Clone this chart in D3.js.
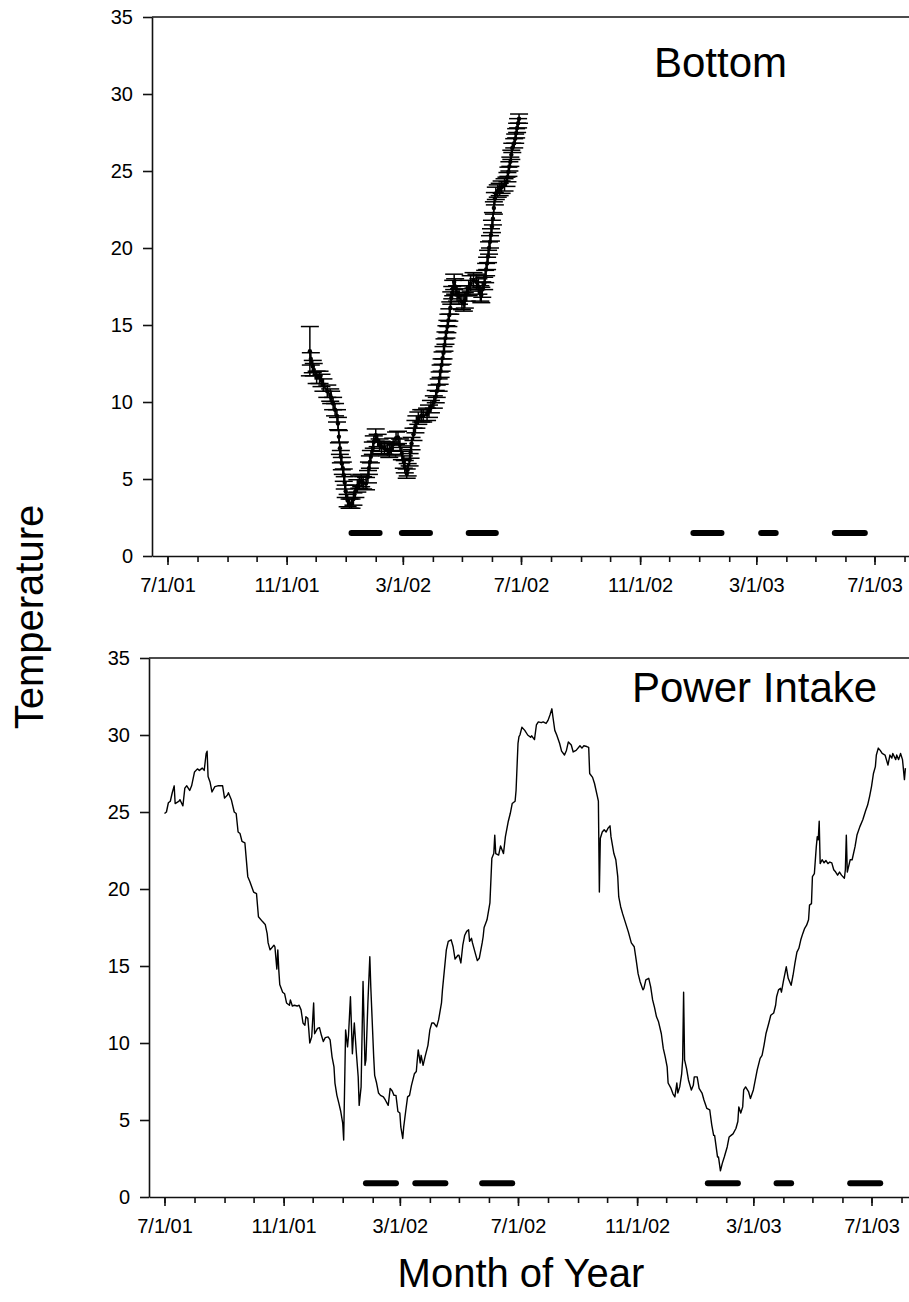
<!DOCTYPE html>
<html>
<head>
<meta charset="utf-8">
<script src="https://cdn.jsdelivr.net/npm/d3@7"></script>
<style>
  body { margin: 0; background: #fff; }
  svg { display: block; }
</style>
</head>
<body>
<svg id="chart" width="909" height="1302"></svg>
<script>
// ---- Bottom temperature: sample means and standard errors ----
const bottomDates = [
  "11/25/01","11/26/01","11/28/01","11/29/01","12/2/01","12/5/01","12/7/01","12/9/01","12/13/01","12/16/01",
  "12/17/01","12/19/01","12/21/01","12/23/01","12/24/01","12/25/01","12/26/01","12/27/01","12/28/01","12/29/01",
  "12/30/01","12/31/01","1/1/02","1/3/02","1/5/02","1/7/02","1/9/02","1/11/02","1/13/02","1/15/02",
  "1/17/02","1/19/02","1/22/02","1/24/02","1/25/02","1/26/02","1/27/02","1/29/02","1/30/02","2/1/02",
  "2/3/02","2/5/02","2/7/02","2/10/02","2/13/02","2/15/02","2/17/02","2/19/02","2/22/02","2/24/02",
  "2/26/02","2/28/02","3/2/02","3/3/02","3/5/02","3/6/02","3/8/02","3/9/02","3/10/02","3/12/02",
  "3/14/02","3/15/02","3/17/02","3/20/02","3/22/02","3/26/02","3/28/02","3/30/02","4/2/02","4/4/02",
  "4/5/02","4/7/02","4/8/02","4/9/02","4/10/02","4/11/02","4/12/02","4/13/02","4/14/02","4/15/02",
  "4/16/02","4/17/02","4/18/02","4/19/02","4/20/02","4/21/02","4/22/02","4/23/02","4/24/02","4/26/02",
  "4/28/02","5/1/02","5/3/02","5/4/02","5/6/02","5/8/02","5/10/02","5/13/02","5/16/02","5/18/02",
  "5/20/02","5/21/02","5/22/02","5/24/02","5/25/02","5/26/02","5/27/02","5/28/02","5/29/02","5/30/02",
  "5/31/02","6/1/02","6/2/02","6/3/02","6/4/02","6/5/02","6/7/02","6/9/02","6/11/02","6/14/02",
  "6/16/02","6/17/02","6/18/02","6/19/02","6/20/02","6/21/02","6/22/02","6/24/02","6/25/02","6/26/02",
  "6/27/02","6/28/02","6/29/02"
];
const bottomTemps = [
  13.3, 12.8, 12.3, 12.1, 11.6, 11.6, 11.4, 11.1, 10.7, 10.45,
  10.3, 9.9, 9.5, 9.1, 8.6, 7.75, 7.0, 6.45, 6.0, 5.7,
  5.25, 4.75, 4.2, 3.6, 3.4, 3.4, 3.7, 4.2, 4.55, 4.8,
  4.9, 4.75, 4.7, 5.15, 5.7, 6.1, 6.45, 7.0, 7.4, 7.85,
  7.5, 7.2, 7.05, 7.0, 6.9, 6.8, 7.0, 7.25, 7.65, 7.7,
  7.2, 6.65, 6.1, 5.8, 5.35, 5.6, 6.25, 6.75, 7.3, 7.9,
  8.4, 8.7, 8.95, 9.1, 9.1, 9.2, 9.4, 9.7, 10.0, 10.35,
  10.7, 11.1, 11.55, 12.0, 12.4, 12.85, 13.2, 13.7, 14.15, 14.55,
  14.9, 15.3, 15.65, 16.1, 16.75, 17.1, 17.4, 17.8, 17.5, 17.05,
  16.85, 16.5, 16.4, 16.6, 17.05, 17.4, 17.7, 17.9, 17.8, 17.5,
  17.05, 16.95, 17.3, 17.7, 18.15, 18.6, 19.0, 19.45, 20.0, 20.4,
  20.85, 21.4, 21.9, 22.6, 23.2, 23.55, 23.7, 23.8, 23.95, 24.1,
  24.3, 24.6, 24.95, 25.3, 25.6, 26.05, 26.5, 26.8, 27.1, 27.45,
  27.8, 28.1, 28.4
];
const bottomErrors = [
  1.6, 0.4, 0.4, 0.4, 0.4, 0.4, 0.4, 0.4, 0.4, 0.4,
  0.4, 0.4, 0.4, 0.4, 0.4, 0.4, 0.4, 0.4, 0.4, 0.4,
  0.4, 0.4, 0.4, 0.4, 0.3, 0.3, 0.4, 0.4, 0.4, 0.4,
  0.4, 0.4, 0.4, 0.4, 0.4, 0.4, 0.4, 0.4, 0.4, 0.4,
  0.4, 0.4, 0.4, 0.4, 0.4, 0.4, 0.4, 0.4, 0.4, 0.4,
  0.4, 0.4, 0.4, 0.4, 0.3, 0.4, 0.4, 0.4, 0.4, 0.4,
  0.4, 0.4, 0.4, 0.4, 0.4, 0.4, 0.4, 0.4, 0.4, 0.4,
  0.4, 0.4, 0.4, 0.4, 0.4, 0.4, 0.4, 0.4, 0.4, 0.4,
  0.4, 0.4, 0.4, 0.4, 0.4, 0.4, 0.5, 0.5, 0.5, 0.5,
  0.5, 0.5, 0.5, 0.5, 0.5, 0.5, 0.5, 0.5, 0.5, 0.5,
  0.5, 0.5, 0.5, 0.4, 0.4, 0.4, 0.4, 0.4, 0.4, 0.4,
  0.4, 0.4, 0.4, 0.4, 0.4, 0.4, 0.4, 0.4, 0.4, 0.4,
  0.3, 0.3, 0.3, 0.3, 0.3, 0.3, 0.3, 0.3, 0.3, 0.3,
  0.3, 0.3, 0.3
];

// ---- Power plant intake temperature (one line per month) ----
const intakeDates = [
  "7/1/01","7/3/01","7/5/01","7/7/01","7/9/01","7/11/01","7/12/01","7/16/01","7/17/01","7/20/01","7/22/01","7/24/01","7/27/01","7/29/01",
  "8/1/01","8/4/01","8/6/01","8/9/01","8/11/01","8/13/01","8/14/01","8/15/01","8/17/01","8/19/01","8/22/01","8/25/01","8/27/01","8/30/01",
  "9/1/01","9/4/01","9/5/01","9/8/01","9/11/01","9/13/01","9/15/01","9/17/01","9/19/01","9/22/01","9/25/01","9/27/01",
  "10/1/01","10/4/01","10/6/01","10/10/01","10/13/01","10/15/01","10/16/01","10/18/01","10/22/01","10/23/01","10/25/01","10/26/01","10/27/01","10/28/01","10/31/01",
  "11/2/01","11/4/01","11/7/01","11/8/01","11/10/01","11/12/01","11/15/01","11/17/01","11/19/01","11/21/01","11/23/01","11/24/01","11/26/01","11/27/01","11/28/01","11/30/01",
  "12/2/01","12/3/01","12/6/01","12/8/01","12/10/01","12/12/01","12/14/01","12/17/01","12/19/01","12/21/01","12/23/01","12/24/01","12/26/01","12/28/01","12/30/01",
  "1/1/02","1/2/02","1/4/02","1/6/02","1/7/02","1/9/02","1/11/02","1/12/02","1/13/02","1/15/02","1/17/02","1/18/02","1/20/02","1/22/02","1/23/02","1/24/02","1/25/02","1/27/02","1/29/02","1/30/02",
  "2/2/02","2/3/02","2/5/02","2/7/02","2/9/02","2/12/02","2/14/02","2/17/02","2/19/02","2/21/02","2/23/02","2/25/02","2/27/02",
  "3/1/02","3/2/02","3/4/02","3/5/02","3/7/02","3/9/02","3/11/02","3/13/02","3/16/02","3/18/02","3/19/02","3/20/02","3/22/02","3/23/02","3/25/02","3/27/02","3/30/02",
  "4/1/02","4/3/02","4/5/02","4/8/02","4/10/02","4/13/02","4/14/02","4/16/02","4/18/02","4/20/02","4/23/02","4/25/02","4/27/02","4/30/02",
  "5/1/02","5/3/02","5/5/02","5/7/02","5/9/02","5/11/02","5/12/02","5/14/02","5/15/02","5/18/02","5/20/02","5/22/02","5/25/02","5/26/02","5/27/02","5/30/02",
  "6/2/02","6/4/02","6/6/02","6/7/02","6/8/02","6/11/02","6/13/02","6/16/02","6/18/02","6/21/02","6/23/02","6/25/02","6/28/02","6/29/02",
  "7/1/02","7/2/02","7/3/02","7/5/02","7/8/02","7/11/02","7/14/02","7/15/02","7/18/02","7/20/02","7/22/02","7/25/02","7/27/02","7/30/02",
  "8/1/02","8/3/02","8/5/02","8/6/02","8/8/02","8/10/02","8/13/02","8/15/02","8/18/02","8/20/02","8/22/02","8/25/02","8/27/02","8/30/02",
  "9/3/02","9/5/02","9/7/02","9/10/02","9/12/02","9/13/02","9/16/02","9/18/02","9/21/02","9/22/02","9/23/02","9/24/02","9/26/02","9/28/02","9/30/02",
  "10/2/02","10/4/02","10/5/02","10/8/02","10/10/02","10/12/02","10/13/02","10/15/02","10/17/02","10/20/02","10/23/02","10/26/02","10/29/02","10/31/02",
  "11/2/02","11/4/02","11/7/02","11/8/02","11/10/02","11/13/02","11/15/02","11/17/02","11/19/02","11/21/02","11/23/02","11/26/02","11/28/02","11/30/02",
  "12/2/02","12/3/02","12/6/02","12/8/02","12/10/02","12/12/02","12/13/02","12/15/02","12/17/02","12/18/02","12/19/02","12/20/02","12/22/02","12/24/02","12/27/02","12/29/02","12/30/02",
  "1/2/03","1/4/03","1/7/03","1/9/03","1/12/03","1/15/03","1/17/03","1/19/03","1/20/03","1/23/03","1/24/03","1/26/03","1/28/03","1/30/03",
  "2/2/03","2/4/03","2/6/03","2/8/03","2/11/03","2/13/03","2/14/03","2/16/03","2/18/03","2/19/03","2/21/03","2/24/03","2/26/03",
  "3/1/03","3/3/03","3/5/03","3/8/03","3/10/03","3/12/03","3/14/03","3/17/03","3/19/03","3/22/03","3/24/03","3/25/03","3/27/03","3/29/03","3/30/03",
  "4/1/03","4/4/03","4/6/03","4/9/03","4/11/03","4/13/03","4/15/03","4/17/03","4/19/03","4/21/03","4/23/03","4/25/03","4/27/03","4/28/03","4/30/03",
  "5/1/03","5/3/03","5/5/03","5/6/03","5/7/03","5/8/03","5/9/03","5/11/03","5/13/03","5/15/03","5/17/03","5/19/03","5/21/03","5/23/03","5/25/03","5/27/03","5/29/03","5/31/03",
  "6/3/03","6/4/03","6/5/03","6/6/03","6/9/03","6/11/03","6/14/03","6/16/03","6/19/03","6/22/03","6/25/03","6/27/03","6/29/03",
  "7/1/03","7/3/03","7/5/03","7/6/03","7/8/03","7/10/03","7/12/03","7/15/03","7/18/03","7/20/03","7/22/03","7/23/03","7/26/03","7/27/03","7/29/03","7/31/03",
  "8/2/03","8/4/03","8/5/03"
];
const intakeTemps = [
  24.9, 25.0, 25.6, 25.7, 26.25, 26.7, 25.55, 25.7, 25.8, 25.4, 26.55, 26.7, 26.4, 26.7,
  27.6, 27.8, 27.7, 27.85, 27.7, 28.8, 28.95, 27.3, 26.95, 26.3, 26.65, 26.7, 26.7, 26.7,
  25.9, 26.1, 26.25, 25.8, 25.0, 24.9, 23.7, 23.6, 23.1, 23.0, 20.8, 20.5,
  19.8, 19.7, 18.2, 17.9, 17.7, 17.1, 16.5, 16.05, 16.35, 16.25, 14.8, 16.05, 14.75, 13.8, 13.3,
  13.2, 12.6, 12.45, 12.8, 12.4, 12.45, 12.4, 12.45, 12.15, 11.3, 11.15, 11.7, 11.6, 10.85, 10.0, 10.4,
  12.6, 10.6, 10.95, 11.0, 10.5, 10.1, 10.35, 10.4, 10.2, 9.1, 8.45, 7.4, 6.6, 6.1, 5.55,
  4.8, 3.7, 10.85, 9.75, 10.5, 13.0, 9.3, 10.4, 11.3, 9.45, 7.8, 5.95, 7.15, 14.0, 11.4, 8.55, 8.9, 12.6, 15.6, 13.65,
  9.1, 7.9, 7.4, 6.75, 6.6, 6.5, 6.3, 5.95, 7.05, 6.9, 6.6, 6.6, 5.55,
  5.45, 4.55, 3.8, 4.55, 5.55, 6.5, 6.6, 7.25, 8.0, 8.15, 8.9, 9.55, 8.7, 9.2, 8.55, 9.1, 9.85,
  10.85, 11.3, 11.3, 11.05, 11.5, 12.6, 13.45, 14.75, 16.05, 16.6, 16.7, 16.25, 15.45, 15.7,
  15.7, 15.2, 16.35, 17.0, 17.25, 17.35, 16.6, 16.8, 16.5, 15.8, 15.35, 15.5, 16.5, 16.9, 17.5, 18.0,
  19.1, 22.0, 22.3, 23.5, 22.3, 22.2, 22.8, 22.3, 23.4, 24.4, 24.9, 25.55, 25.7, 26.4,
  29.45, 29.9, 30.0, 30.5, 30.3, 30.0, 29.85, 29.95, 29.7, 30.65, 30.85, 30.8, 30.85, 30.75,
  30.95, 31.3, 31.7, 31.2, 30.3, 30.0, 29.45, 28.95, 28.7, 29.0, 29.55, 29.35, 28.9, 29.0,
  29.3, 29.15, 29.3, 29.25, 29.2, 27.5, 27.25, 26.85, 26.0, 25.7, 19.8, 23.3, 23.7, 23.85, 23.7,
  23.95, 24.1, 23.4, 22.3, 21.9, 20.8, 19.5, 18.85, 18.4, 17.8, 17.2, 16.5, 16.25, 15.4,
  14.5, 14.0, 13.45, 13.55, 14.1, 14.2, 13.65, 12.8, 12.3, 11.7, 11.4, 10.6, 9.65, 9.1,
  8.45, 7.4, 7.05, 6.7, 6.5, 7.4, 6.75, 7.15, 8.0, 8.9, 13.3, 8.9, 8.35, 7.6, 6.95, 7.25, 7.8,
  7.8, 7.05, 6.75, 6.3, 5.75, 5.65, 4.7, 4.0, 4.0, 2.6, 2.6, 1.7, 2.2, 2.6,
  3.25, 3.9, 4.0, 4.1, 4.45, 4.9, 5.85, 5.45, 5.85, 6.95, 7.15, 6.85, 6.4,
  6.95, 7.6, 8.25, 9.0, 9.2, 9.85, 10.6, 11.3, 11.8, 11.95, 12.45, 13.0, 13.45, 13.55, 13.3,
  14.0, 14.95, 14.2, 13.75, 14.4, 15.2, 15.9, 16.15, 16.7, 17.1, 17.45, 17.65, 18.0, 18.95, 19.05,
  20.8, 21.0, 22.75, 23.4, 23.2, 24.4, 21.65, 21.9, 21.7, 21.85, 21.65, 21.75, 21.7, 21.25, 21.1, 20.9, 21.1, 20.9,
  20.7, 21.25, 23.5, 21.1, 21.9, 21.9, 22.75, 23.5, 24.05, 24.5, 25.1, 25.45, 26.0,
  26.65, 27.5, 27.95, 28.7, 29.15, 29.0, 28.8, 28.7, 28.05, 28.7, 28.5, 28.8, 28.4, 28.7, 28.4, 28.8,
  28.4, 27.1, 27.85
];

// ---- Sampling periods shown as bars near the x axis ----
const bottomPeriodStarts = ["1/7/02", "2/28/02", "5/8/02", "12/26/02", "3/6/03", "5/21/03"];
const bottomPeriodEnds   = ["2/5/02", "3/29/02", "6/5/02", "1/24/03", "3/21/03", "6/21/03"];
const bottomPeriodLevel  = 1.5;
const intakePeriodStarts = ["1/25/02", "3/17/02", "5/25/02", "1/13/03", "3/25/03", "6/9/03"];
const intakePeriodEnds   = ["2/25/02", "4/17/02", "6/25/02", "2/13/03", "4/9/03", "7/10/03"];
const intakePeriodLevel  = 0.9;

// ---- Axis settings ----
const yTicks = [0, 5, 10, 15, 20, 25, 30, 35];
const axisStart = "6/15/01";
const axisEnd = "8/20/03";
const labelMonths = [2, 6, 10];   // Mar, Jul, Nov carry labels

const parse = d3.utcParse("%m/%d/%y");
const FONT = "'Liberation Sans', Arial, Helvetica, sans-serif";
const INK = "#111";
const svg = d3.select("#chart");

const domainStart = parse(axisStart), domainEnd = parse(axisEnd);
const pxPerDay = 0.9685;
const spanDays = (domainEnd - domainStart) / 864e5;

function styleAxis(sel) {
  sel.attr("font-family", FONT).attr("font-size", 20).attr("color", INK);
  sel.selectAll("path.domain").attr("stroke-width", 1.6);
  sel.selectAll(".tick line").attr("stroke-width", 1.6);
  sel.selectAll(".tick text").attr("fill", "#000");
}

function drawPanel(p) {
  const x = d3.scaleUtc()
    .domain([domainStart, domainEnd])
    .range([p.left, p.left + spanDays * pxPerDay]);
  const y = d3.scaleLinear().domain([0, 35]).range([p.bottom, p.top]);
  const g = svg.append("g");

  // top frame line
  g.append("line")
    .attr("x1", p.left).attr("x2", x.range()[1])
    .attr("y1", p.top).attr("y2", p.top)
    .attr("stroke", INK).attr("stroke-width", 1.6);

  // monthly minor ticks and labelled major ticks
  const months = d3.utcMonth.range(parse("7/1/01"), domainEnd);
  const majors = months.filter(m => labelMonths.includes(m.getUTCMonth()));
  g.append("g")
    .attr("transform", `translate(0,${p.bottom})`)
    .call(d3.axisBottom(x).tickValues(months).tickSize(6).tickSizeOuter(0).tickFormat(""))
    .call(styleAxis);
  g.append("g")
    .attr("transform", `translate(0,${p.bottom})`)
    .call(d3.axisBottom(x).tickValues(majors).tickSize(9).tickSizeOuter(0)
      .tickPadding(13).tickFormat(d3.utcFormat("%-m/%-d/%y")))
    .call(styleAxis)
    .call(s => s.select("path.domain").remove());

  g.append("g")
    .attr("transform", `translate(${p.left},0)`)
    .call(d3.axisLeft(y).tickValues(yTicks).tickSize(9).tickSizeOuter(0)
      .tickPadding(10).tickFormat(d3.format("d")))
    .call(styleAxis);

  // panel title
  g.append("text")
    .attr("x", p.titleX).attr("y", p.titleY)
    .attr("font-family", FONT).attr("font-size", 42)
    .attr("fill", "#000")
    .text(p.title);

  // sampling period bars
  const bars = p.barStarts.map((s, i) => ({ s: parse(s), e: parse(p.barEnds[i]) }));
  g.append("g").selectAll("line").data(bars).join("line")
    .attr("x1", d => x(d.s)).attr("x2", d => x(d.e))
    .attr("y1", y(p.barLevel)).attr("y2", y(p.barLevel))
    .attr("stroke", "#000").attr("stroke-width", 6).attr("stroke-linecap", "round");

  return { x, y, g };
}

// ----- upper panel: bottom water temperature with error bars -----
const upperPanel = drawPanel({
  left: 152, top: 17, bottom: 556, title: "Bottom", titleX: 654, titleY: 77,
  barStarts: bottomPeriodStarts, barEnds: bottomPeriodEnds, barLevel: bottomPeriodLevel
});
const bottomData = bottomDates.map((d, i) => ({ date: parse(d), v: bottomTemps[i], e: bottomErrors[i] }));
const capHalf = 9;
const eb = upperPanel.g.append("g").attr("stroke", "#000").attr("stroke-width", 1.5);
bottomData.forEach(d => {
  const cx = upperPanel.x(d.date), yHi = upperPanel.y(d.v + d.e), yLo = upperPanel.y(d.v - d.e);
  eb.append("line").attr("x1", cx).attr("x2", cx).attr("y1", yHi).attr("y2", yLo);
  eb.append("line").attr("x1", cx - capHalf).attr("x2", cx + capHalf).attr("y1", yHi).attr("y2", yHi);
  eb.append("line").attr("x1", cx - capHalf).attr("x2", cx + capHalf).attr("y1", yLo).attr("y2", yLo);
});
upperPanel.g.append("path")
  .datum(bottomData)
  .attr("fill", "none").attr("stroke", "#000").attr("stroke-width", 1.5)
  .attr("d", d3.line().x(d => upperPanel.x(d.date)).y(d => upperPanel.y(d.v)));
upperPanel.g.append("g").selectAll("circle").data(bottomData).join("circle")
  .attr("cx", d => upperPanel.x(d.date)).attr("cy", d => upperPanel.y(d.v)).attr("r", 2.2)
  .attr("fill", "#000");

// ----- lower panel: power plant intake temperature -----
const lowerPanel = drawPanel({
  left: 149, top: 658, bottom: 1197, title: "Power Intake", titleX: 632, titleY: 702,
  barStarts: intakePeriodStarts, barEnds: intakePeriodEnds, barLevel: intakePeriodLevel
});
const intakeData = intakeDates.map((d, i) => ({ date: parse(d), v: intakeTemps[i] }));
lowerPanel.g.append("path")
  .datum(intakeData)
  .attr("fill", "none").attr("stroke", "#000").attr("stroke-width", 1.4)
  .attr("stroke-linejoin", "round")
  .attr("d", d3.line().x(d => lowerPanel.x(d.date)).y(d => lowerPanel.y(d.v)));

// ----- shared axis titles -----
svg.append("text")
  .attr("transform", "translate(43,617) rotate(-90)")
  .attr("text-anchor", "middle")
  .attr("font-family", FONT).attr("font-size", 40).attr("fill", "#000")
  .text("Temperature");
svg.append("text")
  .attr("x", 521).attr("y", 1287)
  .attr("text-anchor", "middle")
  .attr("font-family", FONT).attr("font-size", 40).attr("fill", "#000")
  .text("Month of Year");
</script>
</body>
</html>
